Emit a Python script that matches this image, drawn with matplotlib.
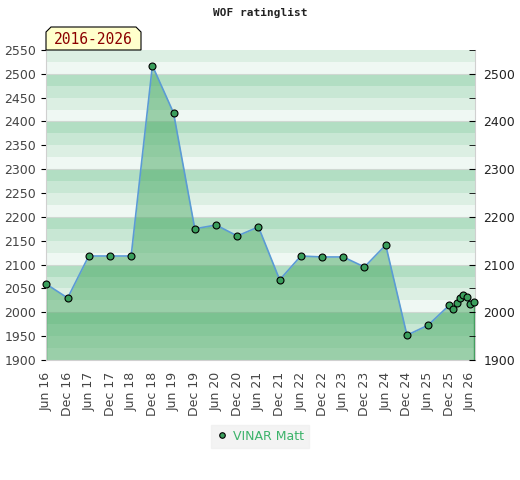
import pandas as pd
import matplotlib.pyplot as plt
import matplotlib.dates as mdates
from matplotlib.patches import Polygon

# rating list dates and ratings
dates = ['2016-06', '2016-12', '2017-06', '2017-12', '2018-06', '2018-12',
         '2019-06', '2019-12', '2020-06', '2020-12', '2021-06', '2021-12',
         '2022-06', '2022-12', '2023-06', '2023-12', '2024-06', '2024-12',
         '2025-06', '2025-12', '2026-01', '2026-02', '2026-03', '2026-04',
         '2026-05', '2026-06', '2026-07']
ratings = [2059, 2030, 2118, 2118, 2118, 2517, 2418, 2175, 2183, 2160,
           2179, 2068, 2118, 2116, 2116, 2095, 2141, 1952, 1973, 2015,
           2006, 2019, 2029, 2036, 2033, 2017, 2021]

player = 'VINAR Matt'
period = '2016-2026'
title = 'WOF ratinglist'

x = pd.to_datetime(dates)

fig = plt.figure(figsize=(5.2, 4.8), dpi=100)
ax = fig.add_axes([0.0885, 0.25, 0.825, 0.646])

ymin, ymax = 1900, 2550
ax.set_ylim(ymin, ymax)
ax.set_xlim(pd.Timestamp('2016-05-29'), pd.Timestamp('2026-07-10'))

# striped background, 4 shades per 100 points
shades = ['#eff8f3', '#dcefe3', '#c8e7d4', '#b2dec3']
for i, lo in enumerate(range(ymin, ymax, 25)):
    ax.axhspan(lo, lo + 25, color=shades[i % 4], lw=0, zorder=0)
for v in range(2000, ymax, 100):
    ax.axhline(v, color='#cfd8d2', lw=0.8, zorder=0.5)

ax.fill_between(x, ratings, ymin, color='#46a861', alpha=0.5, lw=0, zorder=1)
ax.vlines([x[0], x[-1]], ymin, [ratings[0], ratings[-1]], color='#3d9c5a', lw=1, zorder=2)
ax.plot(x, ratings, color='#5b9bd5', lw=1.2, zorder=3)
ax.plot(x, ratings, 'o', ms=5, mfc='#3a9e5c', mec='black', mew=0.8, zorder=4,
        clip_on=False, label=player)

for s in ['top', 'right', 'left', 'bottom']:
    ax.spines[s].set_color('#d0d0d0')
ax.spines['top'].set_visible(False)

ax.set_yticks(range(1900, 2551, 50))
ax.tick_params(axis='y', left=False, labelsize=9, labelcolor='#444444')

ax2 = ax.twinx()
ax2.set_ylim(ymin, ymax)
ax2.set_yticks(range(1900, 2501, 100))
ax2.set_yticks(range(1950, 2551, 100), minor=True)
ax2.tick_params(axis='y', which='both', direction='in', length=4, color='black',
                labelsize=9, labelcolor='#222222', pad=6)
for s in ax2.spines.values():
    s.set_visible(False)

ticks = pd.date_range('2016-06-01', '2026-06-01', freq='6MS')
ax.set_xticks(ticks)
ax.xaxis.set_major_formatter(mdates.DateFormatter('%b %y'))
ax.tick_params(axis='x', bottom=False, labelsize=9, labelcolor='#444444', pad=5)
plt.setp(ax.get_xticklabels(), rotation=90, ha='center', va='top')

fig.text(0.5, 0.972, title, ha='center', va='center', fontsize=8,
         family='DejaVu Sans Mono', fontweight='bold', color='#222222')

# period badge with chamfered top corners
bx0, bx1, by0, by1, c = 46, 141, 50, 27, 5
pts = [(bx0, by0), (bx0, by1 + c), (bx0 + c, by1), (bx1 - c, by1),
       (bx1, by1 + c), (bx1, by0)]
pts = [(px / 520, 1 - py / 480) for px, py in pts]
fig.patches.append(Polygon(pts, closed=True, transform=fig.transFigure,
                           fc='#ffffcc', ec='black', lw=0.8))
fig.text((bx0 + bx1) / 2 / 520, 1 - 40 / 480, period, ha='center', va='center',
         fontsize=10.5, family='DejaVu Sans Mono', color='#8b0000')

leg = fig.legend(loc='center', bbox_to_anchor=(0.5, 1 - 436 / 480), frameon=True,
                 fontsize=9, handletextpad=0.4, borderpad=0.4, handlelength=1,
                 markerscale=0.8)
leg.get_frame().set_facecolor('#f0f0f0')
leg.get_frame().set_edgecolor('#f0f0f0')
leg.get_frame().set_boxstyle('square', pad=0)
for t in leg.get_texts():
    t.set_color('#3cb36a')

fig.savefig('out.png', dpi=100)
